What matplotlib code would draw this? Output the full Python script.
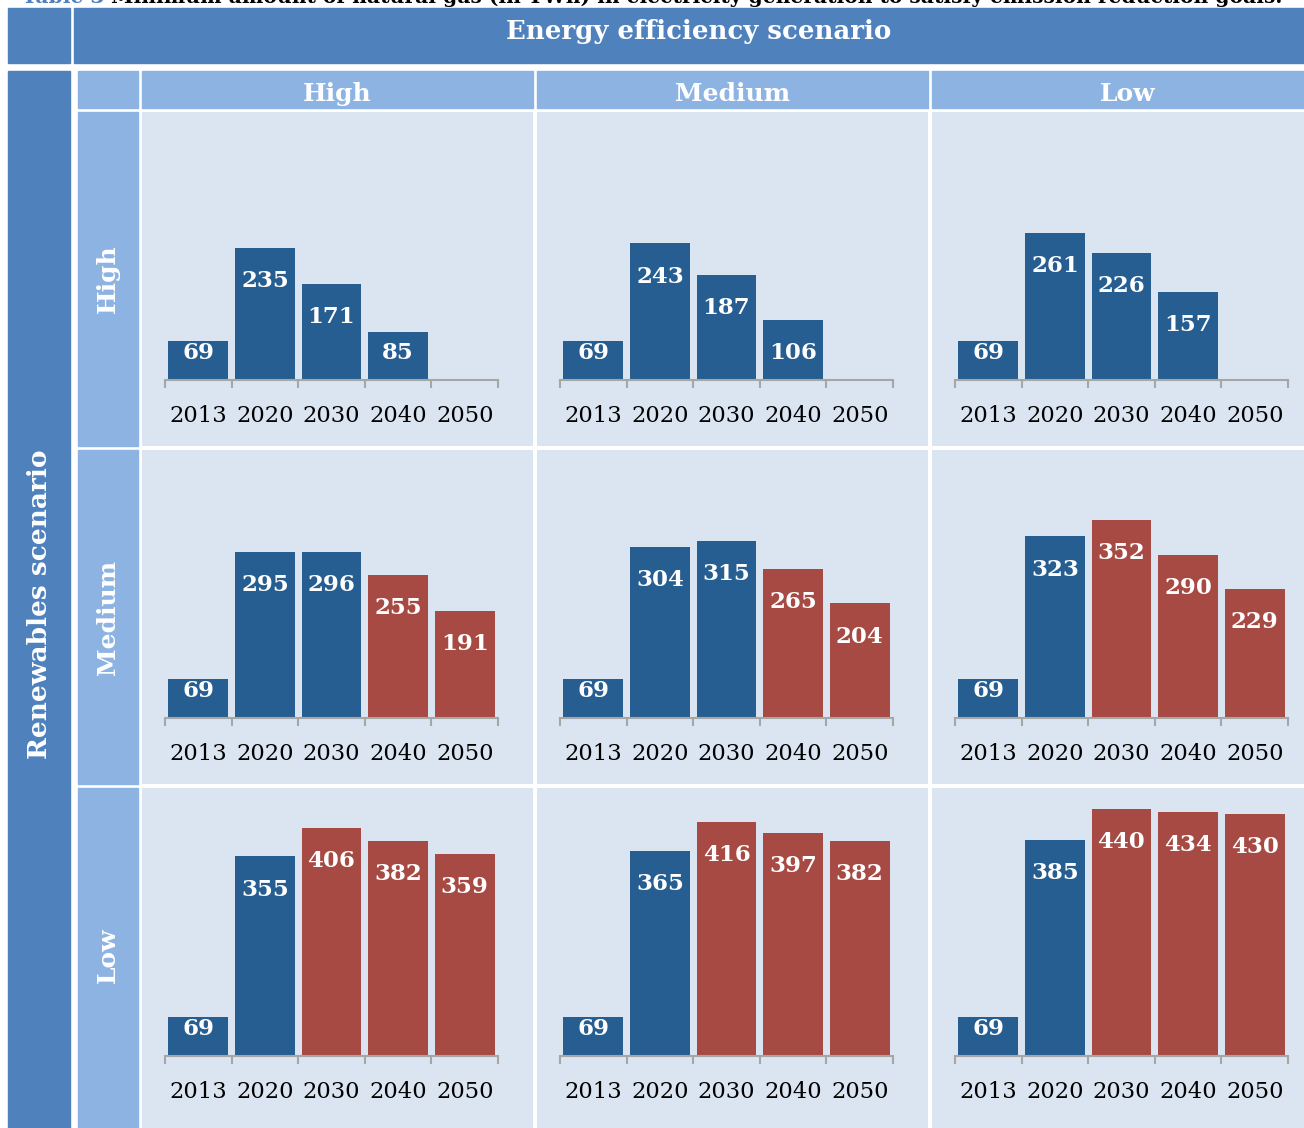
import matplotlib.pyplot as plt
from matplotlib.patches import Rectangle
import numpy as np

W, H = 1304, 1128

years = ['2013', '2020', '2030', '2040', '2050']
efficiency = ['High', 'Medium', 'Low']
renewables = ['High', 'Medium', 'Low']

# natural gas (TWh), one list per energy efficiency scenario
ren_high = [[69, 235, 171, 85, np.nan],
            [69, 243, 187, 106, np.nan],
            [69, 261, 226, 157, np.nan]]
ren_medium = [[69, 295, 296, 255, 191],
              [69, 304, 315, 265, 204],
              [69, 323, 352, 290, 229]]
ren_low = [[69, 355, 406, 382, 359],
           [69, 365, 416, 397, 382],
           [69, 385, 440, 434, 430]]
# first year index drawn in red (5 = none)
red_high = [5, 5, 5]
red_medium = [3, 3, 2]
red_low = [2, 2, 2]

values = [ren_high, ren_medium, ren_low]
red_from = [red_high, red_medium, red_low]

dark = '#4F81BD'
light = '#8DB3E2'
panel_bg = '#DBE5F1'
blue = '#265E91'
red = '#A64A43'
serif = 'DejaVu Serif'

fig = plt.figure(figsize=(W / 100, H / 100), dpi=100)


def box(x0, y0, x1, y1):
    return [x0 / W, 1 - y1 / H, (x1 - x0) / W, (y1 - y0) / H]


def cell(x0, y0, x1, y1, color):
    r = Rectangle((x0 / W, 1 - y1 / H), (x1 - x0) / W, (y1 - y0) / H,
                  transform=fig.transFigure, color=color, zorder=0)
    fig.patches.append(r)


# caption (cut off at the top of the picture, as in the source)
t1 = fig.text(22 / W, 1 - 3 / H, 'Table 3 ', color=dark, fontsize=14.6,
              fontweight='bold', family=serif, va='baseline')
fig.texts.append(plt.matplotlib.text.Annotation(
    'Minimum amount of natural gas (in TWh) in electricity generation to satisfy emission reduction goals.',
    xy=(1, 0), xycoords=t1, ha='left', va='bottom', color='black',
    fontsize=14.6, fontweight='bold', family=serif))
fig.texts[-1].set_figure(fig)

# header cells
cell(8, 8, 70, 63, dark)
cell(74, 8, 1323, 63, dark)
fig.text((74 + 1323) / 2 / W, 1 - 39 / H, 'Energy efficiency scenario', color='white',
         fontsize=18.7, fontweight='bold', family=serif, ha='center', va='baseline')

cell(8, 71, 70, H, dark)
fig.text(40 / W, 1 - 604 / H, 'Renewables scenario', color='white', fontsize=19,
         fontweight='bold', family=serif, ha='center', va='center', rotation=90)

cell(78, 71, 138, 108, light)

col_x = [142, 537, 932]
row_y = [(112, 446), (450, 784), (788, H)]
pw = 391
cat = 66.6      # pixels per category
scale = 0.562   # pixels per TWh
base = 268      # baseline below panel top

for j, name in enumerate(efficiency):
    x0 = col_x[j]
    cell(x0, 71, x0 + pw, 108, light)
    fig.text((x0 + pw / 2) / W, 1 - 101 / H, name, color='white', fontsize=18,
             fontweight='bold', family=serif, ha='center', va='baseline')

for i, rname in enumerate(renewables):
    y0, y1 = row_y[i]
    cell(78, y0, 138, y1, light)
    fig.text(108 / W, 1 - (y0 + 167) / H, rname, color='white', fontsize=18,
             fontweight='bold', family=serif, ha='center', va='center', rotation=90)
    for j in range(3):
        x0 = col_x[j]
        ax = fig.add_axes(box(x0, y0, x0 + pw, y1))
        ax.set_facecolor(panel_bg)
        vals = values[i][j]
        colors = [blue if k < red_from[i][j] else red for k in range(5)]
        ax.bar(range(5), vals, width=0.9, color=colors, zorder=3)
        for k, v in enumerate(vals):
            if np.isnan(v):
                continue
            ax.text(k, max(v - 59, 48), str(v), color='white', fontsize=16.5,
                    fontweight='bold', family=serif, ha='center', va='center', zorder=4)
        left = -0.5 - 23 / cat
        ax.set_xlim(left, left + pw / cat)
        ax.set_ylim(-(y1 - y0 - base) / scale, base / scale)
        for s in ['top', 'left', 'right']:
            ax.spines[s].set_visible(False)
        ax.spines['bottom'].set_position(('data', 0))
        ax.spines['bottom'].set_bounds(-0.5, 4.5)
        ax.spines['bottom'].set_color('#A6A6A6')
        ax.spines['bottom'].set_linewidth(1.5)
        ax.spines['bottom'].set_zorder(5)
        ax.set_xticks(range(5))
        ax.set_xticklabels(years, fontsize=16.3, family=serif)
        ax.set_xticks(np.arange(-0.5, 5, 1), minor=True)
        ax.tick_params(axis='x', which='major', length=0, pad=18)
        ax.tick_params(axis='x', which='minor', length=6, width=1.5, color='#A6A6A6')
        ax.set_yticks([])

fig.savefig('out.png', dpi=100)
